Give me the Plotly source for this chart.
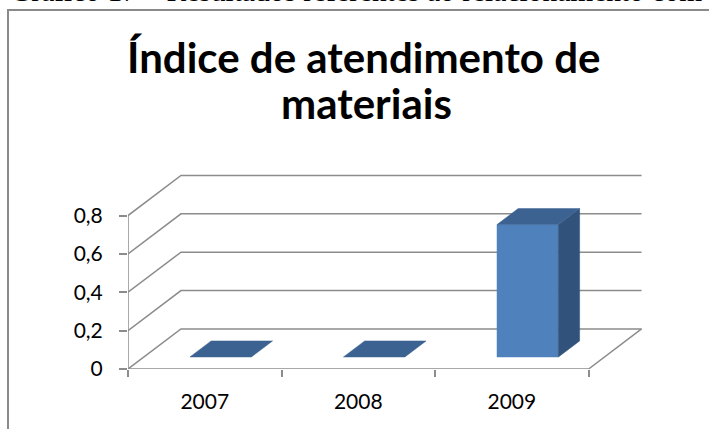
import plotly.graph_objects as go

# chart data
years = ['2007', '2008', '2009']
values = [0, 0, 0.69]
y_ticks = [0, 0.2, 0.4, 0.6, 0.8]
title_lines = ['Índice de atendimento de', 'materiais']
caption = 'Gráfico 17 – Resultados referentes ao relacionamento com'

# pseudo-3D geometry (axis units): wall depth offset, bar width, bar depth slice
DX, DY = 0.345, 0.209
BAR_W = 0.4
F0, F1 = 0.3, 0.7

GRID = '#8c8c8c'
FRONT, TOP, SIDE = '#4f81bd', '#3c6291', '#31527a'

W, H = 709, 429
ML, MR, MT, MB = 128, 59, 158, 60
PW, PH = W - ML - MR, H - MT - MB


def px(x):  # figure pixel -> paper x
    return (x - ML) / PW


def py(y):  # figure pixel -> paper y
    return (H - MB - y) / PH


fig = go.Figure()

# back wall gridlines + floor
gx, gy = [], []
ymax = y_ticks[-1]
n = len(years)
for v in y_ticks:
    gx += [0, DX, n + DX, None]
    gy += [v, v + DY, v + DY, None]
gx += [0, n, n + DX, None, 0, 0]
gy += [0, 0, DY, None, 0, ymax]
fig.add_trace(go.Scatter(x=gx, y=gy, mode='lines', line=dict(color=GRID, width=1.5),
                         hoverinfo='skip', showlegend=False))

# bars
ddx, ddy = (F1 - F0) * DX, (F1 - F0) * DY
for i, (yr, v) in enumerate(zip(years, values)):
    x0 = i + 0.5 - BAR_W / 2 + F0 * DX
    x1 = x0 + BAR_W
    b = F0 * DY
    faces = []
    if v > 0:
        faces.append(([x0, x1, x1, x0, x0], [b, b, b + v, b + v, b], FRONT))
        faces.append(([x1, x1 + ddx, x1 + ddx, x1, x1], [b, b + ddy, b + v + ddy, b + v, b], SIDE))
    faces.append(([x0, x1, x1 + ddx, x0 + ddx, x0], [b + v, b + v, b + v + ddy, b + v + ddy, b + v], TOP))
    for fx, fy, c in faces:
        fig.add_trace(go.Scatter(x=fx, y=fy, mode='lines', fill='toself', fillcolor=c,
                                 line=dict(color=c, width=0.5), name=yr,
                                 hovertemplate=f'{yr}: {v}<extra></extra>', showlegend=False))

# title (two lines) and cut-off caption above the frame
fig.add_annotation(text=f'<b>{title_lines[0]}</b>', xref='paper', yref='paper',
                   x=px(363), y=py(57), xanchor='center', yanchor='middle', showarrow=False,
                   font=dict(family='Lato', size=42, color='black'))
fig.add_annotation(text=f'<b>{title_lines[1]}</b>', xref='paper', yref='paper',
                   x=px(366), y=py(103), xanchor='center', yanchor='middle', showarrow=False,
                   font=dict(family='Lato', size=42, color='black'))
fig.add_annotation(text=caption, xref='paper', yref='paper',
                   x=px(8), y=py(-9), xanchor='left', yanchor='middle', showarrow=False,
                   font=dict(family='Liberation Serif', size=29.5, color='black'))

# outer frame (runs off the right and bottom edges)
fig.add_shape(type='rect', xref='paper', yref='paper', x0=px(8), y0=py(440), x1=px(720), y1=py(10),
              line=dict(color='#8a8a8a', width=2), layer='below')

fig.update_xaxes(range=[0, n + 0.4], tickvals=[i + 0.5 for i in range(n)], ticktext=years,
                 ticks='', showgrid=False, zeroline=False, showline=False,
                 ticklabelstandoff=18, tickfont=dict(family='Lato', size=21, color='black'),
                 minor=dict(tickvals=list(range(n + 1)), ticks='outside', ticklen=7,
                            tickcolor=GRID, tickwidth=1.5, showgrid=False))
fig.update_yaxes(range=[0, 1.1], tickvals=y_ticks, ticks='outside', ticklen=8, tickcolor=GRID,
                 tickwidth=1.5, showgrid=False, zeroline=False, showline=False,
                 ticklabelstandoff=12, tickfont=dict(family='Lato', size=21, color='black'))

fig.update_layout(width=W, height=H, margin=dict(l=ML, r=MR, t=MT, b=MB),
                  plot_bgcolor='white', paper_bgcolor='white', separators=',.',
                  showlegend=False)

# drop the page's default body margin so the figure sits at the window's corner
fig.write_html('out.html', config={'displayModeBar': False},
               post_script="document.body.style.margin = '0';")
